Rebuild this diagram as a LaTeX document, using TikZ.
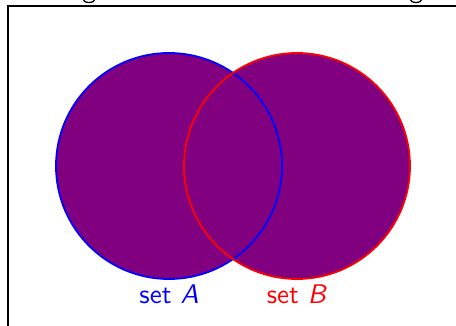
\documentclass[tikz,border=0pt]{standalone}
\usepackage{fontspec}
\usepackage{tikz}
\newfontfamily\labelfont{lmsans10-regular.otf}[ItalicFont=lmsans10-oblique.otf]
\definecolor{setfill}{RGB}{128,0,128}
\tikzset{
  setdisk/.style={fill=setfill},
  setrim/.style={line width=1.8pt},
  setlabel/.style={font=\labelfont\fontsize{27}{30}\selectfont, inner sep=0pt, anchor=base}
}
\begin{document}
\begin{tikzpicture}[x=1pt,y=-1pt]
  \useasboundingbox (0,0) rectangle (456,326);
  \clip (0,0) rectangle (456,326);
  % frame running off the lower right
  \draw[line width=2pt] (8,340) -- (8,6) -- (470,6);
  % tails of the heading's letters just above the frame
  \draw[line width=1.3pt] (83,-1) arc[start angle=180, end angle=0, x radius=6, y radius=3.5];
  \draw[line width=1.3pt] (410,-1) arc[start angle=180, end angle=0, x radius=6, y radius=3.5];
  % the two sets
  \coordinate (ca) at (169,166);
  \coordinate (cb) at (297,166);
  \fill[setdisk] (ca) circle[radius=113];
  \fill[setdisk] (cb) circle[radius=113];
  \draw[setrim, blue] (ca) circle[radius=113];
  \draw[setrim, red] (cb) circle[radius=113];
  \node[setlabel, text=blue] (la) at (169,304) {set \textit{A}};
  \node[setlabel, text=red] (lb) at (297,304) {set \textit{B}};
\end{tikzpicture}
\end{document}
